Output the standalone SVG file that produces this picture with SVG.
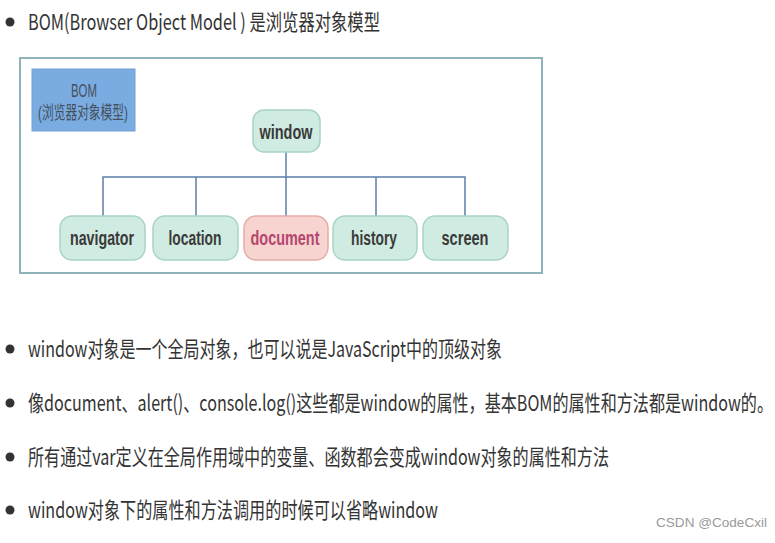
<svg xmlns="http://www.w3.org/2000/svg" width="775" height="543" viewBox="0 0 775 543">
<defs>
<style>
.bg{fill:#ffffff}
.txt{font-family:"Noto Sans CJK SC","Noto Sans",sans-serif;font-size:15px;fill:#333333}
.dot{fill:#333333}
.frame{fill:#ffffff;stroke:#8fb3bb;stroke-width:2}
.bom{fill:#7aace2;stroke:#6f9fd6;stroke-width:1}
.bomt{font-family:"Liberation Sans","Noto Sans CJK SC",sans-serif;font-size:18px;fill:#45515e;text-anchor:middle}
.node rect{fill:#d0ebe1;stroke:#a8d4c4;stroke-width:1.5}
.node text{font-family:"Liberation Sans",Arial,sans-serif;font-size:20px;font-weight:bold;fill:#3a3a3a;text-anchor:middle}
.node.hl rect{fill:#f7d4d0;stroke:#e6aca5}
.node.hl text{fill:#b5466e}
.conn{fill:none;stroke:#5a7fa6;stroke-width:1.5}
.wm{font-family:"Liberation Sans",Arial,sans-serif;font-size:13px;fill:#9a9a9a}
</style>
</defs>
<rect class="bg" x="0" y="0" width="775" height="543"/>

<g id="title">
<circle class="dot" cx="10" cy="22" r="4.5"/>
<text class="txt" transform="translate(28,29.5) scale(1,1.467)" x="0" y="0" textLength="352" lengthAdjust="spacingAndGlyphs">BOM(Browser Object Model ) 是浏览器对象模型</text>
</g>

<g id="frame">
<rect class="frame" x="20" y="58" width="522" height="215"/>
</g>

<g id="bom-label">
<rect class="bom" x="32" y="69" width="103" height="62"/>
<text class="bomt" x="84" y="97" textLength="26" lengthAdjust="spacingAndGlyphs">BOM</text>
<text class="bomt" x="83" y="119" textLength="90" lengthAdjust="spacingAndGlyphs">(浏览器对象模型)</text>
</g>

<g id="connectors">
<path class="conn" d="M286 152 V216"/>
<path class="conn" d="M103 216 V177 H465 V216"/>
<path class="conn" d="M196 177 V216"/>
<path class="conn" d="M376 177 V216"/>
</g>

<g id="window" class="node">
<rect x="253" y="110" width="67" height="42" rx="11"/>
<text x="286" y="139" textLength="53" lengthAdjust="spacingAndGlyphs">window</text>
</g>
<g id="navigator" class="node">
<rect x="60" y="216" width="85" height="44" rx="12"/>
<text x="102" y="245" textLength="64" lengthAdjust="spacingAndGlyphs">navigator</text>
</g>
<g id="location" class="node">
<rect x="153" y="216" width="85" height="44" rx="12"/>
<text x="195" y="245" textLength="53" lengthAdjust="spacingAndGlyphs">location</text>
</g>
<g id="document" class="node hl">
<rect x="244" y="216" width="84" height="44" rx="12"/>
<text x="285" y="245" textLength="69" lengthAdjust="spacingAndGlyphs">document</text>
</g>
<g id="history" class="node">
<rect x="333" y="216" width="84" height="44" rx="12"/>
<text x="374" y="245" textLength="46" lengthAdjust="spacingAndGlyphs">history</text>
</g>
<g id="screen" class="node">
<rect x="423" y="216" width="85" height="44" rx="12"/>
<text x="465" y="245" textLength="47" lengthAdjust="spacingAndGlyphs">screen</text>
</g>

<g id="bullets">
<circle class="dot" cx="10" cy="349" r="4.5"/>
<text class="txt" transform="translate(28,356.5) scale(1,1.467)" x="0" y="0" textLength="474" lengthAdjust="spacingAndGlyphs">window对象是一个全局对象，也可以说是JavaScript中的顶级对象</text>
<circle class="dot" cx="10" cy="403" r="4.5"/>
<text class="txt" transform="translate(28,410.5) scale(1,1.467)" x="0" y="0" textLength="745" lengthAdjust="spacingAndGlyphs">像document、alert()、console.log()这些都是window的属性，基本BOM的属性和方法都是window的。</text>
<circle class="dot" cx="10" cy="457" r="4.5"/>
<text class="txt" transform="translate(28,464.5) scale(1,1.467)" x="0" y="0" textLength="581" lengthAdjust="spacingAndGlyphs">所有通过var定义在全局作用域中的变量、函数都会变成window对象的属性和方法</text>
<circle class="dot" cx="10" cy="510" r="4.5"/>
<text class="txt" transform="translate(28,517.5) scale(1,1.467)" x="0" y="0" textLength="410" lengthAdjust="spacingAndGlyphs">window对象下的属性和方法调用的时候可以省略window</text>
</g>

<text class="wm" x="656" y="527" textLength="111" lengthAdjust="spacingAndGlyphs">CSDN @CodeCxil</text>
</svg>
